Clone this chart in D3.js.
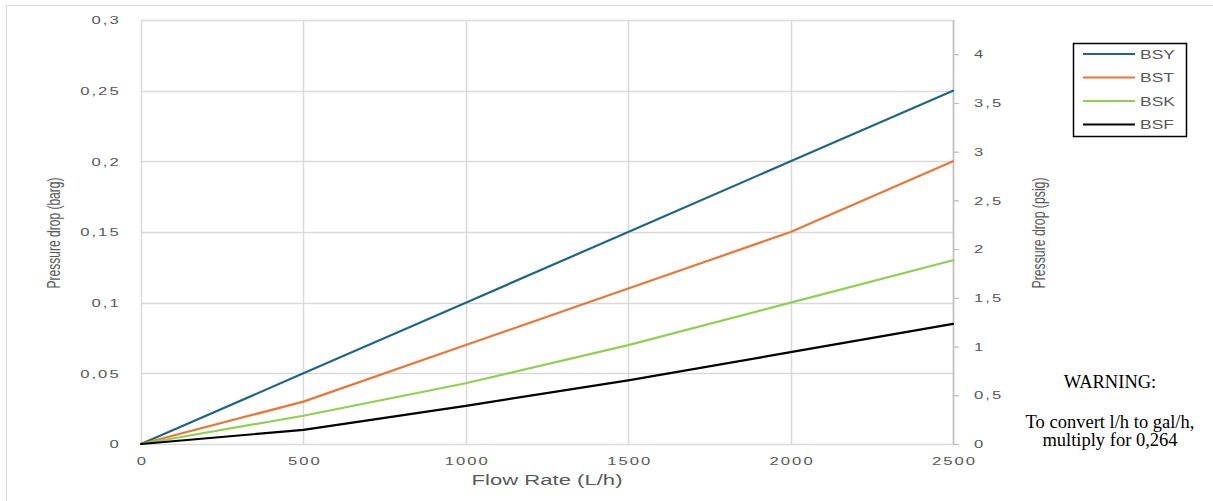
<!DOCTYPE html>
<html>
<head>
<meta charset="utf-8">
<script src="https://cdn.jsdelivr.net/npm/d3@7"></script>
<style>
  html, body { margin: 0; padding: 0; background: #fff; }
  svg { display: block; }
</style>
</head>
<body>
<svg id="chart" width="1213" height="501"></svg>
<script>
// ---- data ----
const flowRates = [0, 500, 1000, 1500, 2000, 2500];
const seriesNames = ["BSY", "BST", "BSK", "BSF"];
const bsyValues = [0, 0.05, 0.10, 0.15, 0.20, 0.25];
const bstValues = [0, 0.03, 0.07, 0.11, 0.15, 0.20];
const bskValues = [0, 0.02, 0.043, 0.07, 0.10, 0.13];
const bsfValues = [0, 0.01, 0.027, 0.045, 0.065, 0.085];
const xTicks = [0, 500, 1000, 1500, 2000, 2500];
const yTicksBar = [0, 0.05, 0.1, 0.15, 0.2, 0.25, 0.3];
const yTicksPsi = [0, 0.5, 1, 1.5, 2, 2.5, 3, 3.5, 4];
const barToPsi = 14.5038;
const xTitle = "Flow Rate (L/h)";
const yTitleLeft = "Pressure drop (barg)";
const yTitleRight = "Pressure drop (psig)";
const warningLines = ["WARNING:", "To convert l/h to gal/h,", "multiply for 0,264"];

const seriesValues = [bsyValues, bstValues, bskValues, bsfValues];
const colors = ["#1f6685", "#ec7535", "#8fd14f", "#000000"];

// ---- layout ----
const svg = d3.select("#chart");
const L = 141, R = 953, T = 20, B = 444;
const SX = 1.45; // horizontal text stretch
const tickColor = "#595959";
const gridColor = "#d9d9d9";

const x = d3.scaleLinear().domain([0, 2500]).range([L, R]);
const y = d3.scaleLinear().domain([0, 0.3]).range([B, T]);
const yPsi = d3.scaleLinear().domain([0, 0.3 * barToPsi]).range([B, T]);

const loc = d3.formatLocale({decimal: ",", thousands: "", grouping: [3], currency: ["", ""]});
const fmt = v => loc.format("")(+v.toFixed(3));

// outer frame
svg.append("rect").attr("x", 6.5).attr("y", 5.5).attr("width", 1220).attr("height", 510)
  .attr("fill", "none").attr("stroke", gridColor).attr("stroke-width", 1);

// grid
const grid = svg.append("g");
grid.selectAll("line.h").data(yTicksBar).join("line")
  .attr("x1", L).attr("x2", R)
  .attr("y1", d => Math.round(y(d)) + 0.5).attr("y2", d => Math.round(y(d)) + 0.5)
  .attr("stroke", gridColor).attr("stroke-width", 1.3);
grid.selectAll("line.v").data(xTicks).join("line")
  .attr("y1", T).attr("y2", B)
  .attr("x1", d => Math.round(x(d)) + 0.5).attr("x2", d => Math.round(x(d)) + 0.5)
  .attr("stroke", gridColor).attr("stroke-width", 1.5);

const textStyle = sel => sel
  .attr("font-family", "'Liberation Sans', Arial, sans-serif")
  .attr("font-size", "11.5px")
  .attr("letter-spacing", "1.4px")
  .attr("fill", tickColor);

// left axis
const gl = svg.append("g").attr("transform", `translate(${L},0)`)
  .call(d3.axisLeft(y).tickValues(yTicksBar).tickFormat(fmt).tickSize(0).tickPadding(14));
gl.select(".domain").remove();
gl.selectAll("text").call(textStyle).attr("transform", `scale(${SX},1)`);

// right axis
const gr = svg.append("g").attr("transform", `translate(${R},0)`)
  .call(d3.axisRight(yPsi).tickValues(yTicksPsi).tickFormat(fmt).tickSize(6).tickPadding(8.5));
gr.select(".domain").attr("stroke", "#bfbfbf").attr("stroke-width", 1.5)
  .attr("d", `M0.5,${T}V${B}`);
gr.selectAll(".tick line").attr("stroke", "#bfbfbf").attr("stroke-width", 1.3);
gr.selectAll("text").call(textStyle).attr("x", 0)
  .attr("transform", `translate(21,0) scale(${SX},1)`);

// bottom axis
const gb = svg.append("g").attr("transform", `translate(0,${B})`)
  .call(d3.axisBottom(x).tickValues(xTicks).tickFormat(d => String(d)).tickSize(0).tickPadding(13));
gb.select(".domain").remove();
gb.selectAll(".tick text").call(textStyle).attr("transform", `scale(${SX},1)`).attr("dx", "0.7px");

// lines
const line = d3.line()
  .x((d, i) => x(flowRates[i]))
  .y(d => y(d))
  .curve(d3.curveLinear);
svg.append("g").selectAll("path").data(seriesValues).join("path")
  .attr("d", line)
  .attr("fill", "none")
  .attr("stroke", (d, i) => colors[i])
  .attr("stroke-width", 2.2)
  .attr("stroke-linejoin", "round")
  .attr("stroke-linecap", "round");

// axis titles
svg.append("text")
  .attr("x", 547).attr("y", 485)
  .attr("text-anchor", "middle")
  .attr("font-family", "'Liberation Sans', Arial, sans-serif")
  .attr("font-size", "14px")
  .attr("fill", tickColor)
  .attr("textLength", 151).attr("lengthAdjust", "spacingAndGlyphs")
  .text(xTitle);

function vTitle(cx, cy, txt) {
  svg.append("g").attr("transform", `translate(${cx},${cy}) rotate(-90) scale(1,1.35)`)
    .append("text")
    .attr("x", 0).attr("y", 0)
    .attr("dy", "0.35em")
    .attr("text-anchor", "middle")
    .attr("font-family", "'Liberation Sans Narrow', 'Liberation Sans', Arial, sans-serif")
    .attr("font-size", "13.5px")
    .attr("fill", tickColor)
    .attr("textLength", 111).attr("lengthAdjust", "spacingAndGlyphs")
    .text(txt);
}
vTitle(54, 233, yTitleLeft);
vTitle(1039, 233, yTitleRight);

// legend
const lg = svg.append("g");
lg.append("rect").attr("x", 1073.5).attr("y", 43.5).attr("width", 113).attr("height", 93)
  .attr("fill", "#fff").attr("stroke", "#000").attr("stroke-width", 1.5);
const legRows = [54, 77.5, 101, 124.5];
seriesNames.forEach((name, i) => {
  lg.append("line").attr("x1", 1083).attr("x2", 1135)
    .attr("y1", legRows[i]).attr("y2", legRows[i])
    .attr("stroke", colors[i]).attr("stroke-width", 2.2);
  lg.append("text")
    .attr("transform", `translate(1140,${legRows[i] + 4.5}) scale(1.4,1)`)
    .attr("font-family", "'Liberation Sans', Arial, sans-serif")
    .attr("font-size", "12.5px")
    .attr("fill", tickColor)
    .text(name);
});

// warning note
const note = svg.append("g").attr("font-family", "'Liberation Serif', 'Times New Roman', serif")
  .attr("font-size", "18.5px").attr("fill", "#000").attr("text-anchor", "middle");
note.append("text").attr("x", 1110).attr("y", 388).text(warningLines[0]);
note.append("text").attr("x", 1110).attr("y", 428).text(warningLines[1]);
note.append("text").attr("x", 1110).attr("y", 446).text(warningLines[2]);
</script>
</body>
</html>
